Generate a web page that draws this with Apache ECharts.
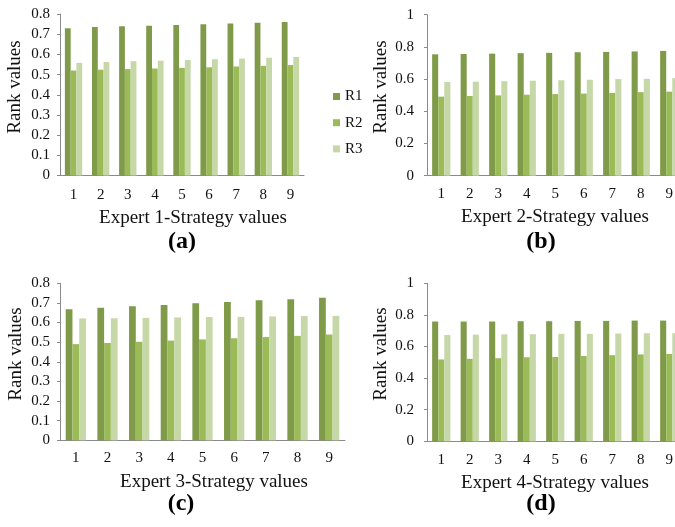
<!DOCTYPE html>
<html>
<head>
<meta charset="utf-8">
<script src="https://cdn.jsdelivr.net/npm/echarts@6/dist/echarts.min.js"></script>
<style>
html, body { margin: 0; padding: 0; overflow: hidden; background: #fff; }
#chart { width: 700px; height: 527px; }
</style>
</head>
<body>
<div id="chart"></div>
<script>
const categories = ['1', '2', '3', '4', '5', '6', '7', '8', '9'];
const seriesNames = ['R1', 'R2', 'R3'];

const expert1R1 = [0.730, 0.735, 0.739, 0.742, 0.745, 0.749, 0.753, 0.757, 0.760];
const expert1R2 = [0.520, 0.524, 0.527, 0.530, 0.533, 0.536, 0.540, 0.543, 0.547];
const expert1R3 = [0.558, 0.562, 0.566, 0.569, 0.572, 0.576, 0.579, 0.583, 0.587];

const expert2R1 = [0.754, 0.756, 0.758, 0.761, 0.763, 0.767, 0.769, 0.772, 0.775];
const expert2R2 = [0.491, 0.495, 0.499, 0.503, 0.507, 0.510, 0.514, 0.519, 0.522];
const expert2R3 = [0.582, 0.584, 0.587, 0.590, 0.593, 0.596, 0.600, 0.602, 0.606];

const expert3R1 = [0.668, 0.676, 0.683, 0.690, 0.698, 0.705, 0.713, 0.719, 0.727];
const expert3R2 = [0.490, 0.496, 0.502, 0.508, 0.514, 0.520, 0.526, 0.532, 0.539];
const expert3R3 = [0.621, 0.622, 0.624, 0.626, 0.628, 0.629, 0.631, 0.633, 0.634];

const expert4R1 = [0.758, 0.758, 0.758, 0.760, 0.760, 0.762, 0.762, 0.764, 0.764];
const expert4R2 = [0.518, 0.522, 0.526, 0.532, 0.534, 0.540, 0.545, 0.550, 0.553];
const expert4R3 = [0.673, 0.675, 0.677, 0.678, 0.680, 0.680, 0.682, 0.684, 0.684];

const xTitles = ['Expert 1-Strategy values', 'Expert 2-Strategy values', 'Expert 3-Strategy values', 'Expert 4-Strategy values'];
const panelLabels = ['(a)', '(b)', '(c)', '(d)'];
const yTitle = 'Rank values';
const yMax = [0.8, 1, 0.8, 1];
const yInterval = [0.1, 0.2, 0.1, 0.2];

const panelData = [
  [expert1R1, expert1R2, expert1R3],
  [expert2R1, expert2R2, expert2R3],
  [expert3R1, expert3R2, expert3R3],
  [expert4R1, expert4R2, expert4R3]
];

const colors = ['#7f9a48', '#9bbb59', '#c6d7a8'];
const FONT = 'Liberation Serif';
const axisColor = '#8a8a8a';

const grids = [
  { left: 60, top: 14, width: 244, height: 161.5 },
  { left: 427, top: 14.7, width: 256.5, height: 161 },
  { left: 60, top: 283.3, width: 285, height: 157 },
  { left: 427, top: 283.3, width: 256.5, height: 158 }
];
const yLabelMargin = [10, 13, 10, 13];
const xLabelMargin = [12, 11, 10.5, 11];

const xAxes = [], yAxes = [], series = [];
for (let i = 0; i < 4; i++) {
  xAxes.push({
    type: 'category', gridIndex: i, data: categories,
    axisLine: { lineStyle: { color: axisColor, width: 1 } },
    axisTick: { show: false },
    axisLabel: { color: '#111', fontFamily: FONT, fontSize: 15, margin: xLabelMargin[i] }
  });
  yAxes.push({
    type: 'value', gridIndex: i, min: 0, max: yMax[i], interval: yInterval[i],
    axisLine: { show: true, lineStyle: { color: axisColor, width: 1 } },
    axisTick: { show: true, length: 3, lineStyle: { color: axisColor } },
    splitLine: { show: false },
    axisLabel: { color: '#111', fontFamily: FONT, fontSize: 15, margin: yLabelMargin[i] }
  });
  for (let s = 0; s < 3; s++) {
    series.push({
      name: seriesNames[s], type: 'bar', xAxisIndex: i, yAxisIndex: i,
      data: panelData[i][s],
      barGap: '0%', barCategoryGap: '36%',
      itemStyle: { color: colors[s] },
      emphasis: { disabled: true }
    });
  }
}

const xTitlePos = [[193, 218], [555, 217], [214, 482], [555, 483]];
const yTitlePos = [[15.5, 87], [381.5, 87], [16.5, 354], [381.5, 354]];
const panelPos = [[182, 242], [541, 242], [181, 504], [541, 504]];

const graphics = [];
for (let i = 0; i < 4; i++) {
  graphics.push({
    type: 'text', x: xTitlePos[i][0], y: xTitlePos[i][1],
    style: { text: xTitles[i], x: 0, y: 0, textAlign: 'center', textVerticalAlign: 'middle',
      font: '19px "Liberation Serif"', fill: '#111' }
  });
  graphics.push({
    type: 'text', x: yTitlePos[i][0], y: yTitlePos[i][1], rotation: Math.PI / 2,
    style: { text: yTitle, x: 0, y: 0, textAlign: 'center', textVerticalAlign: 'middle',
      font: '19px "Liberation Serif"', fill: '#111' }
  });
  graphics.push({
    type: 'text', x: panelPos[i][0], y: panelPos[i][1],
    style: { text: panelLabels[i], x: 0, y: 0, textAlign: 'center', textVerticalAlign: 'middle',
      font: 'bold 24px "Liberation Serif"', fill: '#000' }
  });
}

const chart = echarts.init(document.getElementById('chart'), null, { renderer: 'canvas' });
chart.setOption({
  animation: false,
  backgroundColor: '#fff',
  grid: grids,
  xAxis: xAxes,
  yAxis: yAxes,
  series: series,
  legend: {
    data: seriesNames, orient: 'vertical', left: 328, top: 84,
    itemWidth: 7, itemHeight: 7, itemGap: 11.2, icon: 'rect',
    selectedMode: false,
    textStyle: { fontFamily: FONT, fontSize: 15, color: '#111', lineHeight: 15 }
  },
  graphic: graphics
});
</script>
</body>
</html>
